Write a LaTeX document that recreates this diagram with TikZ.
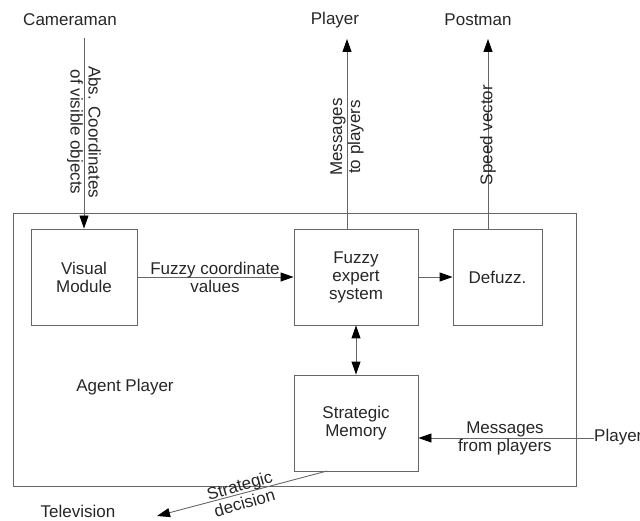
\documentclass[tikz,border=0pt]{standalone}
\usepackage{fontspec}
\setmainfont{Liberation Sans}
\usetikzlibrary{arrows.meta}
\begin{document}
\begin{tikzpicture}[x=1pt,y=1pt,
  every node/.style={font=\fontsize{17}{18}\selectfont, text=black!85, inner sep=0pt},
  blk/.style={draw=black!60, line width=0.9pt, align=center},
  tip/.style={Triangle[length=13pt,width=9pt,fill=black,color=black]},
  conn/.style={draw=black!60, line width=0.9pt, -{Triangle[length=13pt,width=9pt,fill=black,color=black]}},
  dconn/.style={draw=black!60, line width=0.9pt, {Triangle[length=13pt,width=9pt,fill=black,color=black]}-{Triangle[length=13pt,width=9pt,fill=black,color=black]}},
  lbl/.style={align=center}]
\useasboundingbox (0,0) rectangle (640,-521);
% outer box
\draw[draw=black!60, line width=0.9pt] (13,-213) rectangle (576,-486);
% blocks
\node[blk, minimum width=106pt, minimum height=96pt] (vis) at (84,-277) {Visual\\Module};
\node[blk, minimum width=124pt, minimum height=96pt] (fes) at (356,-277) {Fuzzy\\expert\\system};
\node[blk, minimum width=89pt, minimum height=96pt] (def) at (497.5,-277) {Defuzz.};
\node[blk, minimum width=124pt, minimum height=96pt] (mem) at (356,-423) {Strategic\\Memory};
% outside labels
\node (cam) at (70,-20) {Cameraman};
\node (ply) at (335,-20) {Player};
\node (pst) at (478,-20) {Postman};
\node (tv) at (78,-511) {Television};
\node[anchor=west] (plr) at (594,-437) {Player};
\node (agent) at (125,-387) {Agent Player};
% coordinates
\coordinate (camS) at (84,-38);
\coordinate (plyE) at (347,-39);
\coordinate (pstE) at (488,-39);
\coordinate (tvE) at (157,-516);
\coordinate (memS) at (327,-471);
% connectors
\draw[conn] (camS) -- (vis.north);
\draw[conn] (fes.north -| plyE) -- (plyE);
\draw[conn] (def.north -| pstE) -- (pstE);
\draw[conn] (vis.east) -- (fes.west);
\draw[conn] (fes.east) -- (def.west);
\draw[dconn] (fes.south) -- (mem.north);
\draw[conn] (plr.west |- 0,-438) -- (mem.east |- 0,-438);
\draw[conn] (memS) -- (tvE);
% connector labels
\node[lbl, rotate=-90] at (84,-132) {Abs. Coordinates\\of visible objects};
\node[lbl, rotate=90] at (347,-137) {Messages\\to players};
\node[lbl, rotate=90] at (488,-135) {Speed vector};
\node[lbl] at (215,-277) {Fuzzy coordinate\\values};
\node[lbl] at (505,-438) {Messages\\from players};
\node[lbl, rotate=16] at (242,-494) {Strategic\\decision};
\end{tikzpicture}
\end{document}
